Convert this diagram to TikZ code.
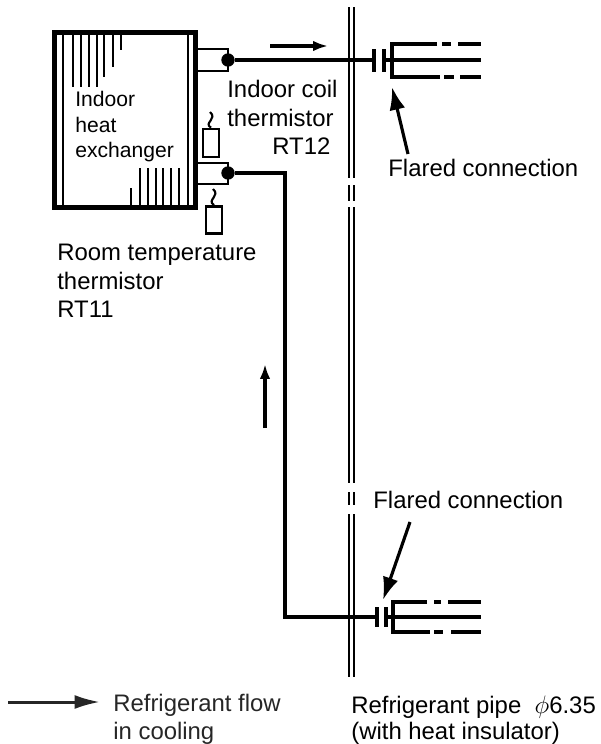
\documentclass[tikz,border=0pt]{standalone}
\usepackage{fontspec}
\setmainfont{Liberation Sans}
\usetikzlibrary{arrows.meta}
\tikzset{
	lbl/.style={anchor=base west,inner sep=0pt,font=\fontsize{13.6}{16}\selectfont},
	smalllbl/.style={anchor=base west,inner sep=0pt,font=\fontsize{12}{14}\selectfont},
	pipeline/.style={line width=2.1pt},
	thinline/.style={line width=1.5pt},
	wall/.style={line width=1.4pt},
	flowarrow/.style={line width=2pt,-{Latex[length=8.5pt,width=6pt]}},
	legendarrow/.style={line width=1.7pt,-{Latex[length=14.5pt,width=8pt]}},
	bigarrow/.style={line width=1.8pt,-{Latex[length=13pt,width=9pt]}},
	dot/.style={circle,fill=black,inner sep=0pt,minimum size=7.6pt}
}
\begin{document}
\begin{tikzpicture}[x=0.02cm,y=-0.02cm]
	\useasboundingbox (0,0) rectangle (600,744);

	% heat exchanger
	\draw [line width=3pt] (54.5,32.5) rectangle (195.5,207.5);
	\foreach \px in {63,188}
		\draw [thinline] (\px,32) -- (\px,207);
	\foreach \px/\py in {73/87,81/87,89/87,97/87,104/77,113/67,121/50}
		\draw [thinline] (\px,32) -- (\px,\py);
	\foreach \px/\py in {131/188,140/168,148/168,156/168,163/168,171/168,179/168}
		\draw [thinline] (\px,207) -- (\px,\py);

	% brackets and dots
	\coordinate (b1) at (197,49);
	\coordinate (b2) at (228,49);
	\coordinate (b3) at (228,71);
	\coordinate (b4) at (197,71);
	\coordinate (b5) at (197,163);
	\coordinate (b6) at (228,163);
	\coordinate (b7) at (228,184);
	\coordinate (b8) at (197,184);
	\draw [thinline] (b1) -- (b2) -- (b3) -- (b4);
	\draw [thinline] (b5) -- (b6) -- (b7) -- (b8);
	\node [dot] (d1) at (228,60) {};
	\node [dot] (d2) at (228,173) {};

	% thermistors
	\node [draw,thinline,minimum width=9pt,minimum height=16pt,inner sep=0pt] (t1) at (211,143) {};
	\node [draw,thinline,minimum width=9pt,minimum height=15.5pt,inner sep=0pt] (t2) at (214,220) {};
	\coordinate (w1) at (210,112);
	\coordinate (w2) at (213,189);
	\draw [line width=1.2pt] (t1.north) .. controls (203,123) and (218,119) .. (w1);
	\draw [line width=1.2pt] (t2.north) .. controls (206,200) and (221,196) .. (w2);

	% insulated wall
	\foreach \px in {349,354} {
		\draw [wall] (\px,7) -- (\px,178);
		\draw [wall] (\px,185) -- (\px,201);
		\draw [wall] (\px,207) -- (\px,483);
		\draw [wall] (\px,492) -- (\px,505);
		\draw [wall] (\px,514) -- (\px,677);
	}

	% upper flare
	\coordinate (f1) at (374,60);
	\coordinate (f2) at (385,60);
	\coordinate (f3) at (481,60);
	\draw [pipeline] (d1) -- (f1);
	\draw [pipeline] (f2) -- (f3);
	\draw [line width=2.4pt] (374,49) -- (374,72);
	\draw [line width=2.4pt] (384,49) -- (384,72);
	\draw [pipeline] (437,44) -- (392,44) -- (392,77) -- (440,77);
	\draw [pipeline] (442,44) -- (451,44);
	\draw [pipeline] (458,44) -- (481,44);
	\draw [pipeline] (444,77) -- (454,77);
	\draw [pipeline] (460,77) -- (481,77);

	% lower flare
	\coordinate (g0) at (285,173);
	\coordinate (g1) at (285,617);
	\coordinate (g2) at (377,617);
	\coordinate (g3) at (387,617);
	\coordinate (g4) at (481,617);
	\draw [pipeline] (d2) -- (g0) -- (g1) -- (g2);
	\draw [pipeline] (g3) -- (g4);
	\draw [line width=2.4pt] (377,607) -- (377,627);
	\draw [line width=2.4pt] (386,607) -- (386,627);
	\draw [pipeline] (427,602) -- (393,602) -- (393,632) -- (430,632);
	\draw [pipeline] (434,602) -- (441,602);
	\draw [pipeline] (448,602) -- (481,602);
	\draw [pipeline] (434,632) -- (443,632);
	\draw [pipeline] (451,632) -- (481,632);

	% arrows
	\coordinate (a1) at (270,46);
	\coordinate (a2) at (328,46);
	\coordinate (a3) at (265,428);
	\coordinate (a4) at (265,364);
	\coordinate (a5) at (408,154);
	\coordinate (a6) at (392,87);
	\coordinate (a7) at (410,522);
	\coordinate (a8) at (383,600);
	\coordinate (a9) at (8,702);
	\coordinate (a10) at (100,702);
	\draw [flowarrow] (a1) -- (a2);
	\draw [flowarrow] (a3) -- (a4);
	\draw [bigarrow] (a5) -- (a6);
	\draw [bigarrow] (a7) -- (a8);
	\draw [legendarrow,black!85] (a9) -- (a10);

	% labels
	\node [smalllbl] (n1) at (75,106) {Indoor};
	\node [smalllbl] (n2) at (75,132) {heat};
	\node [smalllbl] (n3) at (75,157) {exchanger};
	\node [lbl] (n4) at (227,97) {Indoor coil};
	\node [lbl] (n5) at (227,126) {thermistor};
	\node [lbl] (n6) at (272,154) {RT12};
	\node [lbl] (n7) at (388,176) {Flared connection};
	\node [lbl] (n8) at (57,260) {Room temperature};
	\node [lbl] (n9) at (57,289) {thermistor};
	\node [lbl] (n10) at (57,317) {RT11};
	\node [lbl] (n11) at (373,508) {Flared connection};
	\node [lbl,black!85] (n12) at (113,711) {Refrigerant flow};
	\node [lbl,black!85] (n13) at (113,739) {in cooling};
	\node [lbl] (n14) at (351,713) {Refrigerant pipe\ \ $\phi$6.35};
	\node [lbl] (n15) at (351,739) {(with heat insulator)};
\end{tikzpicture}
\end{document}
